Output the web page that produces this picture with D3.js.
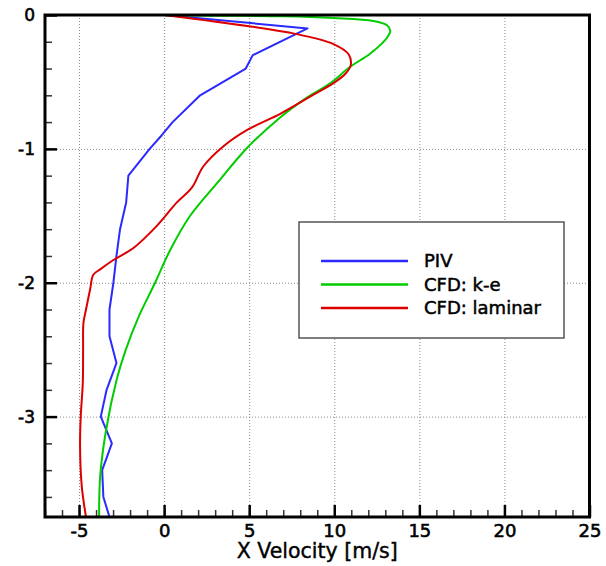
<!DOCTYPE html>
<html>
<head>
<meta charset="utf-8">
<script src="https://cdn.jsdelivr.net/npm/d3@7"></script>
<style>
    body { margin: 0; background: #fff; }
    text { font-family: "DejaVu Sans", sans-serif; fill: #000; }
</style>
</head>
<body>
<div id="chart"></div>
<script>

// PIV measurements (x velocity, depth)
var pivY = [0, -0.1, -0.3, -0.4, -0.6, -0.8, -0.9, -1.0, -1.2, -1.4, -1.6, -1.8, -2.0, -2.2, -2.4, -2.6, -2.8, -3.0, -3.2, -3.4, -3.6, -3.75];
var pivX = [0, 8.43, 5.21, 4.80, 2.12, 0.50, -0.15, -0.85, -2.10, -2.23, -2.59, -2.80, -2.98, -3.21, -3.21, -2.80, -3.38, -3.72, -3.07, -3.64, -3.57, -3.21];

// CFD k-e
var keY = [0, -0.005, -0.01, -0.023, -0.045, -0.077, -0.117, -0.17, -0.29, -0.387, -0.51, -0.617, -0.765, -0.995, -1.25, -1.5, -1.75, -2.0, -2.25, -2.5, -2.72, -3.1, -3.45, -3.75];
var keX = [0, 3, 7, 9.95, 12.3, 13.1, 13.29, 13.1, 12.1, 10.93, 9.76, 8.39, 6.82, 4.86, 3.15, 1.53, 0.38, -0.53, -1.48, -2.25, -2.78, -3.41, -3.76, -3.82];

// CFD laminar
var lamY = [0, -0.143, -0.217, -0.293, -0.374, -0.441, -0.509, -0.595, -0.738, -0.86, -0.98, -1.13, -1.29, -1.40, -1.575, -1.74, -1.83, -1.9, -1.94, -2.05, -2.2, -2.3, -2.5, -2.75, -3.0, -3.22, -3.52, -3.75];
var lamX = [0, 7.8, 9.95, 10.84, 10.97, 10.64, 9.95, 8.78, 6.82, 4.86, 3.49, 2.31, 1.63, 0.75, -0.43, -1.8, -2.98, -3.76, -4.16, -4.35, -4.59, -4.74, -4.76, -4.78, -4.9, -4.94, -4.84, -4.59];

var seriesNames = ["PIV", "CFD: k-e", "CFD: laminar"];
var seriesColors = ["#2a2aff", "#00cc00", "#dd0000"];

var xMajor = [-5, 0, 5, 10, 15, 20, 25];
var yMajor = [0, -1, -2, -3];
var xGrid = [-5, 0, 5, 10, 15, 20];
var yGrid = [-1, -2, -3];

var W = 606, H = 566;
var pLeft = 45, pRight = 589.5, pTop = 15, pBottom = 517;

var x = d3.scaleLinear().domain([-7, 25]).range([pLeft, pRight]);
var y = d3.scaleLinear().domain([-3.75, 0]).range([pBottom, pTop]);

var svg = d3.select("#chart").append("svg")
    .attr("width", W)
    .attr("height", H);

svg.append("defs").append("clipPath").attr("id", "plotClip")
    .append("rect")
    .attr("x", pLeft).attr("y", pTop)
    .attr("width", pRight - pLeft).attr("height", pBottom - pTop);

// dotted grid
svg.append("g")
    .attr("transform", "translate(0," + pBottom + ")")
    .call(d3.axisBottom(x).tickValues(xGrid).tickSize(-(pBottom - pTop)).tickFormat(""))
    .call(function (g) {
        g.select(".domain").remove();
        g.selectAll("line").attr("stroke", "#8a8a8a").attr("stroke-dasharray", "1,2");
    });

svg.append("g")
    .attr("transform", "translate(" + pLeft + ",0)")
    .call(d3.axisLeft(y).tickValues(yGrid).tickSize(-(pRight - pLeft)).tickFormat(""))
    .call(function (g) {
        g.select(".domain").remove();
        g.selectAll("line").attr("stroke", "#8a8a8a").attr("stroke-dasharray", "1,2");
    });

// curves
var series = [
    { x: pivX, y: pivY, curve: d3.curveLinear },
    { x: keX, y: keY, curve: d3.curveCatmullRom.alpha(0.5) },
    { x: lamX, y: lamY, curve: d3.curveCatmullRom.alpha(0.5) }
];

var plot = svg.append("g").attr("clip-path", "url(#plotClip)");

series.forEach(function (s, i) {
    var pts = s.x.map(function (v, j) { return [v, s.y[j]]; });
    var line = d3.line()
        .x(function (d) { return x(d[0]); })
        .y(function (d) { return y(d[1]); })
        .curve(s.curve);
    plot.append("path")
        .datum(pts)
        .attr("fill", "none")
        .attr("stroke", seriesColors[i])
        .attr("stroke-width", 2)
        .attr("stroke-linejoin", "round")
        .attr("d", line);
});

// minor ticks, inward
svg.append("g")
    .attr("transform", "translate(0," + pBottom + ")")
    .call(d3.axisBottom(x).tickValues(d3.range(-7, 25, 1)).tickSize(-7).tickFormat(""))
    .call(function (g) {
        g.select(".domain").remove();
        g.selectAll("line").attr("stroke", "#333").attr("stroke-width", 1.5);
    });

svg.append("g")
    .attr("transform", "translate(" + pLeft + ",0)")
    .call(d3.axisLeft(y).tickValues(d3.range(-3.6, 0, 0.2)).tickSize(-7).tickFormat(""))
    .call(function (g) {
        g.select(".domain").remove();
        g.selectAll("line").attr("stroke", "#333").attr("stroke-width", 1.5);
    });

// major ticks + labels
svg.append("g")
    .attr("transform", "translate(0," + pBottom + ")")
    .call(d3.axisBottom(x).tickValues(xMajor).tickSize(-12).tickPadding(7)
        .tickFormat(function (d) { return String(d); }))
    .call(function (g) {
        g.select(".domain").remove();
        g.selectAll("line").attr("stroke", "#000").attr("stroke-width", 2.5);
        g.selectAll("text").attr("font-size", 18).attr("font-family", "DejaVu Sans")
            .attr("stroke", "#000").attr("stroke-width", 0.6);
    });

svg.append("g")
    .attr("transform", "translate(" + pLeft + ",0)")
    .call(d3.axisLeft(y).tickValues(yMajor).tickSize(-12).tickPadding(10)
        .tickFormat(function (d) { return String(d); }))
    .call(function (g) {
        g.select(".domain").remove();
        g.selectAll("line").attr("stroke", "#000").attr("stroke-width", 2.5);
        g.selectAll("text").attr("font-size", 17).attr("font-family", "DejaVu Sans")
            .attr("stroke", "#000").attr("stroke-width", 0.6);
    });

// frame
svg.append("rect")
    .attr("x", pLeft).attr("y", pTop)
    .attr("width", pRight - pLeft).attr("height", pBottom - pTop)
    .attr("fill", "none")
    .attr("stroke", "#000")
    .attr("stroke-width", 3);

svg.append("text")
    .attr("x", (pLeft + pRight) / 2)
    .attr("y", 558)
    .attr("text-anchor", "middle")
    .attr("font-size", 20.5)
    .attr("stroke", "#000").attr("stroke-width", 0.4)
    .text("X Velocity [m/s]");

// legend
var legend = svg.append("g");
legend.append("rect")
    .attr("x", 299).attr("y", 222)
    .attr("width", 265).attr("height", 116)
    .attr("fill", "#fff")
    .attr("stroke", "#555")
    .attr("stroke-width", 1.5);

var rowY = d3.scalePoint().domain(seriesNames).range([261, 308]);

seriesNames.forEach(function (name, i) {
    legend.append("line")
        .attr("x1", 321).attr("x2", 408)
        .attr("y1", rowY(name)).attr("y2", rowY(name))
        .attr("stroke", seriesColors[i])
        .attr("stroke-width", 2.5);
    legend.append("text")
        .attr("x", 424)
        .attr("y", rowY(name))
        .attr("dy", "0.36em")
        .attr("font-size", 18)
        .attr("stroke", "#000").attr("stroke-width", 0.5)
        .text(name);
});

</script>
</body>
</html>
